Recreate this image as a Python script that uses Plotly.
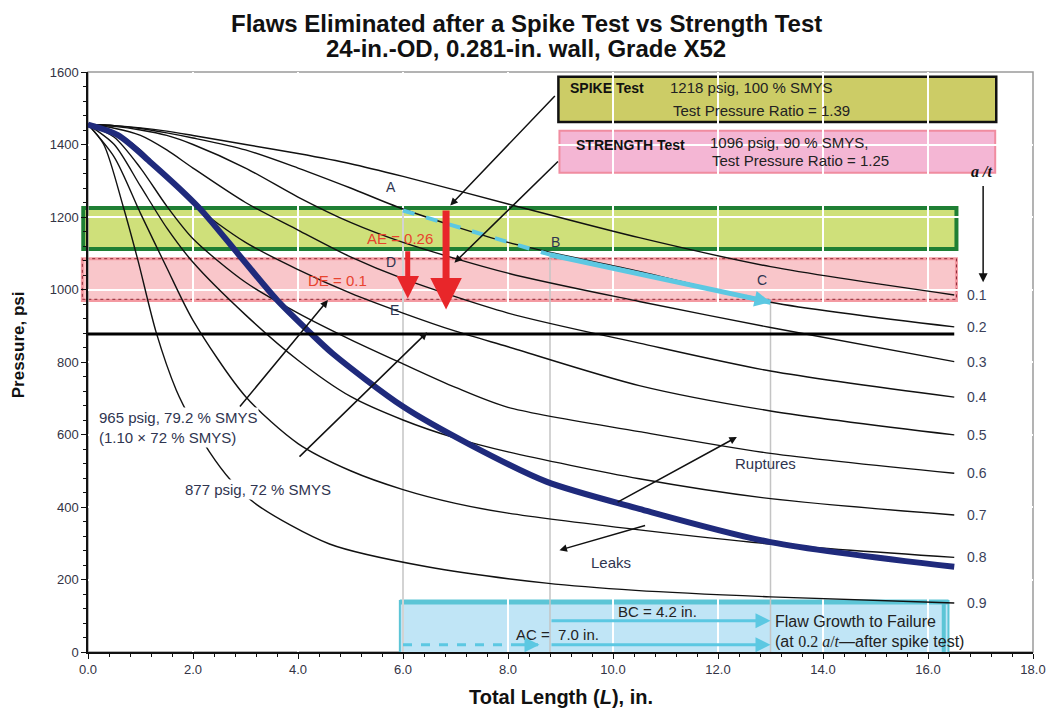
import plotly.graph_objects as go

# ---------------- data ----------------
A_OVER_T = ["0.1", "0.2", "0.3", "0.4", "0.5", "0.6", "0.7", "0.8", "0.9"]

L_STD = [0, 0.5, 1, 1.5, 2, 3, 4, 5, 6, 8, 10.5, 13, 16.5]
P_01 = [1455, 1452, 1446, 1437, 1425, 1400, 1375, 1347, 1312, 1236, 1143, 1063, 985]
P_02 = [1455, 1452, 1444, 1432, 1418, 1385, 1335, 1280, 1222, 1130, 1050, 965, 897]
P_03 = [1455, 1450, 1440, 1425, 1400, 1335, 1255, 1185, 1130, 1045, 967, 895, 801]
P_04 = [1455, 1445, 1425, 1385, 1335, 1240, 1164, 1090, 1030, 935, 852, 775, 703]

L_MID = [0, 0.5, 1, 1.5, 2, 3, 4, 5, 6, 7, 8, 10.5, 13, 16.5]
P_05 = [1455, 1435, 1385, 1310, 1235, 1130, 1055, 990, 935, 885, 842, 735, 665, 599]
P_06 = [1455, 1420, 1335, 1230, 1140, 1020, 935, 862, 795, 730, 675, 608, 548, 493]
P_07 = [1455, 1400, 1285, 1170, 1075, 930, 805, 705, 640, 590, 552, 478, 423, 378]
P_08 = [1455, 1365, 1210, 1060, 915, 705, 575, 500, 448, 410, 383, 337, 298, 261]

L_09 = [0, 0.3, 0.67, 0.95, 1.3, 1.68, 2.0, 2.31, 2.72, 3.22, 4.6, 6.46, 8.73, 10.43, 13, 16.5]
P_09 = [1455, 1400, 1229, 1081, 881, 723, 630, 553, 474, 406, 298, 235, 190, 170, 152, 135]

L_BOUND = [0, 0.57, 1.2, 2.12, 2.9, 3.6, 4.23, 4.67, 6.0, 7.3, 8.73, 10.5, 13, 16.5]
P_BOUND = [1455, 1426, 1350, 1225, 1091, 971, 881, 822, 677, 570, 470, 395, 303, 235]

CURVES = [(L_STD, P_01), (L_STD, P_02), (L_STD, P_03), (L_STD, P_04),
          (L_MID, P_05), (L_MID, P_06), (L_MID, P_07), (L_MID, P_08), (L_09, P_09)]

SPIKE_P = 1218
STRENGTH_P = 1096
MAOP_P = 877
MAOP110_P = 965
END_L = 16.5

# flaw growth path A -> B -> C on 0.2 a/t curve
PT_A = (6.0, 1218)
PT_B = (8.8, 1096)
PT_C = (13.0, 965)

FONT = "Arial, Liberation Sans, sans-serif"
TXT = "#2f3550"

fig = go.Figure()

# ---------------- bands and boxes (below grid) ----------------
shapes = []
# green spike band
shapes.append(dict(type="rect", xref="paper", yref="y", x0=-0.005, x1=0.919, y0=1112, y1=1225,
                   fillcolor="#cfe07a", line=dict(color="#1f7f34", width=4), layer="below"))
# pink strength band
shapes.append(dict(type="rect", xref="paper", yref="y", x0=-0.006, x1=0.919, y0=970, y1=1085,
                   fillcolor="#f9c6ca", line=dict(color="#f49aa2", width=3), layer="below"))
shapes.append(dict(type="rect", xref="paper", yref="y", x0=-0.006, x1=0.919, y0=973, y1=1085,
                   fillcolor="rgba(0,0,0,0)", line=dict(color="#8a2a35", width=1, dash="dot"), layer="below"))
# spike test box
shapes.append(dict(type="rect", xref="x", yref="y", x0=8.96, x1=17.3, y0=1462, y1=1587,
                   fillcolor="#cccc66", line=dict(color="#111111", width=2.5), layer="below"))
# strength test box
shapes.append(dict(type="rect", xref="x", yref="y", x0=8.98, x1=17.28, y0=1322, y1=1438,
                   fillcolor="#f4b6d4", line=dict(color="#f08ca0", width=2), layer="below"))
# flaw growth box
shapes.append(dict(type="rect", xref="x", yref="y", x0=5.94, x1=16.39, y0=-14, y1=141,
                   fillcolor="#c0e5f6", line=dict(color="#5cc5d6", width=2), layer="below"))
shapes.append(dict(type="line", xref="x", yref="y", x0=5.94, x1=16.39, y0=138, y1=138,
                   line=dict(color="#5cc5d6", width=5), layer="below"))
shapes.append(dict(type="line", xref="x", yref="y", x0=16.3, x1=16.3, y0=-14, y1=141,
                   line=dict(color="#5cc5d6", width=4), layer="below"))
# plot frame
shapes.append(dict(type="rect", xref="paper", yref="paper", x0=0, x1=1, y0=0, y1=1,
                   line=dict(color="#9a9a9a", width=1.5), layer="below"))

# ---------------- vertical guide lines from A, B, C ----------------
for (lx, py) in (PT_A, PT_B, PT_C):
    fig.add_trace(go.Scatter(x=[lx, lx], y=[py, 0], mode="lines",
                             line=dict(color="#c4c4c4", width=1.5), hoverinfo="skip", showlegend=False))

# ---------------- a/t curves ----------------
for (lx, py) in CURVES:
    fig.add_trace(go.Scatter(x=lx, y=py, mode="lines", line=dict(color="#111111", width=1.4, shape="spline", smoothing=0.8),
                             hoverinfo="skip", showlegend=False))

# leak/rupture boundary
fig.add_trace(go.Scatter(x=L_BOUND, y=P_BOUND, mode="lines",
                         line=dict(color="#1f2a7c", width=6, shape="spline", smoothing=0.8),
                         hoverinfo="skip", showlegend=False))

# MAOP line
fig.add_trace(go.Scatter(x=[0, END_L], y=[MAOP_P, MAOP_P], mode="lines",
                         line=dict(color="#000000", width=3), hoverinfo="skip", showlegend=False))

# flaw growth path (cyan)
fig.add_trace(go.Scatter(x=[PT_A[0], PT_B[0]], y=[PT_A[1], PT_B[1]], mode="lines",
                         line=dict(color="#5cc8e2", width=4, dash="dash"), hoverinfo="skip", showlegend=False))
fig.add_trace(go.Scatter(x=[PT_B[0], PT_C[0]], y=[PT_B[1], PT_C[1]], mode="lines",
                         line=dict(color="#5cc8e2", width=5), hoverinfo="skip", showlegend=False))

# ---------------- annotations ----------------
ann = []


def txt(x, y, s, size=15, color=TXT, xanchor="center", bold=False, bg=None, align="left", xref="x", yref="y", italic=False, family=FONT):
    if bold:
        s = "<b>" + s + "</b>"
    if italic:
        s = "<i>" + s + "</i>"
    d = dict(x=x, y=y, xref=xref, yref=yref, text=s, showarrow=False, xanchor=xanchor, yanchor="middle",
             align=align, font=dict(family=family, size=size, color=color))
    if bg:
        d["bgcolor"] = bg
        d["borderpad"] = 1
    ann.append(d)


def arrow(x0, y0, x1, y1, color="#111111", width=1.5, head=2, size=1.0):
    ann.append(dict(x=x1, y=y1, ax=x0, ay=y0, xref="x", yref="y", axref="x", ayref="y", text="",
                    showarrow=True, arrowhead=head, arrowsize=size, arrowwidth=width, arrowcolor=color))


# titles
txt(0.464, 1.084, "Flaws Eliminated after a Spike Test vs Strength Test", size=24, color="#111111", bold=True,
    xref="paper", yref="paper")
ann[-1]["borderpad"] = 0
txt(0.464, 1.041, "24-in.-OD, 0.281-in. wall, Grade X52", size=24, color="#111111", bold=True,
    xref="paper", yref="paper")
ann[-1]["borderpad"] = 0

# box texts
txt(9.15, 1556, "SPIKE Test", size=14, color="#111111", bold=True, xanchor="left")
txt(11.05, 1556, f"{SPIKE_P} psig, 100 % SMYS", size=15, color="#222222", xanchor="left")
txt(11.1, 1495, "Test Pressure Ratio = 1.39", size=15, color="#222222", xanchor="left")
txt(9.25, 1399, "STRENGTH Test", size=14, color="#111111", bold=True, xanchor="left")
txt(11.8, 1405, f"{STRENGTH_P} psig, 90 % SMYS,", size=15, color="#222222", xanchor="left")
txt(11.85, 1357, "Test Pressure Ratio = 1.25", size=15, color="#222222", xanchor="left")

# point labels
txt(5.77, 1283, "A", size=14)
txt(8.9, 1131, "B", size=14)
txt(12.84, 1026, "C", size=14)
txt(5.77, 1076, "D", size=14)
txt(5.84, 944, "E", size=14)
txt(5.95, 1142, "AE = 0.26", size=15, color="#e8432e")
txt(4.75, 1024, "DE = 0.1", size=15, color="#e8432e")

# pressure labels with white background (cover curves)
txt(0.17, 618, f"{MAOP110_P} psig, 79.2 % SMYS<br>(1.10 × 72 % SMYS)", size=15, xanchor="left", bg="white")
txt(1.8, 447, f"{MAOP_P} psig, 72 % SMYS", size=15, xanchor="left", bg="white")

txt(12.9, 521, "Ruptures", size=15)
txt(9.96, 248, "Leaks", size=15)

# right-side a/t labels
for lab, (lx, py) in zip(A_OVER_T, CURVES):
    txt(16.7, py[-1], lab, size=14, xanchor="left", color="#3a3f5a")
txt(17.02, 1325, "a /t", size=16, color="#111111", bold=True, italic=True, family="Times New Roman, Liberation Serif, serif")
arrow(17.05, 1290, 17.05, 1020, width=1.5, head=2, size=1.2)

# flaw growth box texts
txt(10.85, 113, "BC = 4.2 in.", size=15, color="#222222")
txt(8.95, 48, "AC =  7.0 in.", size=15, color="#222222")
txt(13.05, 84, "Flaw Growth to Failure", size=16, color="#222222", xanchor="left")
txt(13.05, 29, "(at <span style='font-family:Times New Roman'>0.2 <i>a</i>/<i>t</i></span>—after spike test)", size=16,
    color="#222222", xanchor="left")

# cyan arrows in growth box
fig.add_trace(go.Scatter(x=[PT_A[0], PT_B[0] - 0.2], y=[20, 20], mode="lines",
                         line=dict(color="#5cc8e2", width=3, dash="dash"), hoverinfo="skip", showlegend=False))
arrow(PT_B[0], 86, PT_C[0], 86, color="#5cc8e2", width=3, head=2, size=1)
arrow(PT_B[0], 20, PT_C[0], 20, color="#5cc8e2", width=3, head=2, size=1)
arrow(PT_B[0] - 0.6, 20, PT_B[0] - 0.2, 20, color="#5cc8e2", width=3, head=2, size=1)
# arrowhead at C on growth path
arrow(12.5, 981, PT_C[0], PT_C[1], color="#5cc8e2", width=4, head=2, size=0.8)

# red arrows (pressure drops)
arrow(6.09, 1110, 6.09, 975, color="#e8262a", width=5, head=2, size=0.9)
arrow(6.82, 1222, 6.82, 945, color="#e8262a", width=7, head=2, size=0.9)

# black pointer arrows
arrow(8.92, 1538, 6.9, 1232, width=1.5)
arrow(8.98, 1357, 6.98, 1074, width=1.5)
arrow(2.87, 673, 4.57, 971, width=1.5)
arrow(4.0, 535, 6.46, 882, width=1.5)
arrow(10.06, 411, 12.36, 593, width=1.5)
arrow(10.64, 350, 8.98, 281, width=1.5)

# axis titles
txt(-0.074, 0.529, "Pressure, psi", size=17, color="#111111", bold=True, xref="paper", yref="paper")
ann[-1]["textangle"] = -90
txt(0.5, -0.078, "Total Length (<i>L</i>), in.", size=20, color="#111111", bold=True, xref="paper", yref="paper")

# the page body has an 8 px default margin, so the figure is 8 px smaller and margins shifted
fig.update_layout(
    width=1050, height=709,
    margin=dict(l=80, r=18, t=64, b=65),
    paper_bgcolor="white", plot_bgcolor="white",
    shapes=shapes, annotations=ann, showlegend=False,
    xaxis=dict(range=[0, 18], dtick=2, tickformat=".1f", showgrid=True, gridcolor="white", gridwidth=1.5,
               zeroline=False, showline=True, linecolor="#111111", linewidth=1.5,
               ticks="outside", ticklen=5, tickcolor="#111111",
               minor=dict(dtick=0.4, ticks="outside", ticklen=3, tickcolor="#111111"),
               tickfont=dict(family=FONT, size=13, color="#333344"), layer="above traces"),
    yaxis=dict(range=[0, 1600], dtick=200, showgrid=True, gridcolor="white", gridwidth=1.5,
               zeroline=False, showline=True, linecolor="#111111", linewidth=1.5,
               ticks="outside", ticklen=5, tickcolor="#111111",
               minor=dict(dtick=40, ticks="outside", ticklen=3, tickcolor="#111111"),
               tickfont=dict(family=FONT, size=13, color="#333344")),
)

fig.write_html("out.html")
